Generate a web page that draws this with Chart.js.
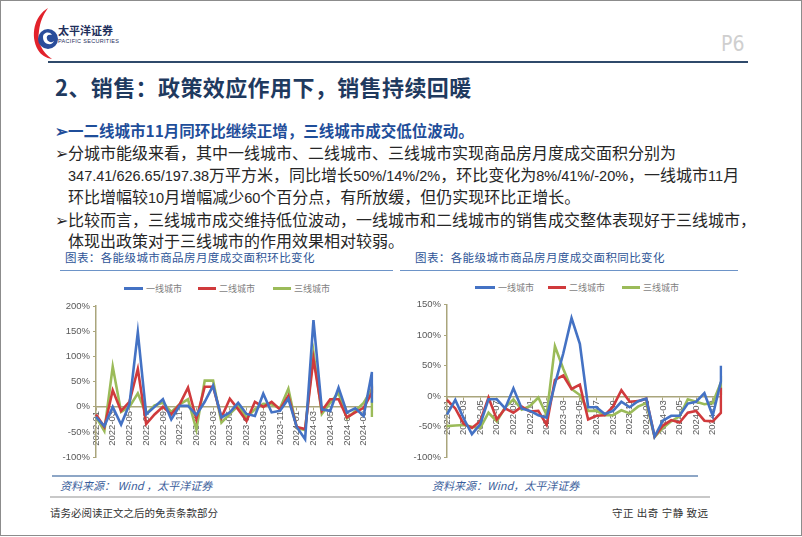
<!DOCTYPE html>
<html>
<head>
<meta charset="utf-8">
<script src="https://cdn.jsdelivr.net/npm/chart.js@4.4.0/dist/chart.umd.min.js"></script>
<style>
  html, body { margin: 0; padding: 0; background: #fff; }
  body { width: 802px; height: 537px; position: relative; overflow: hidden;
         font-family: "Noto Sans CJK SC", "Noto Sans", sans-serif; }
  .abs { position: absolute; white-space: nowrap; }
  .frame { position: absolute; left: 0; top: 0; width: 800px; height: 534px; border: 1px solid #8c8c8c; }
  .title { left: 55px; top: 73px; font-size: 22px; line-height: 26px; font-weight: bold; color: #1f3a5f; letter-spacing: 0.4px; }
  .txt { font-size: 16px; line-height: 20px; color: #262626; }
  .num { font-family: "Liberation Sans", Arial, sans-serif; font-size: 14.5px; }
  .lead { color: #1f4e9a; font-weight: bold; font-size: 15.5px; }
  .cap { font-size: 11.5px; line-height: 14px; color: #2e5597; letter-spacing: 0.4px; }
  .src { font-size: 11px; line-height: 14px; color: #3b5e9b; font-style: italic; }
  .foot { font-size: 10.5px; line-height: 14px; color: #333; }
  .lg { font-size: 9px; line-height: 10px; color: #7f7f7f; }
  .lgline { position: absolute; height: 3px; }
  canvas { position: absolute; }
</style>
</head>
<body>
<div class="frame"></div>

<!-- logo -->
<svg class="abs" style="left:28px;top:6px" width="40" height="54" viewBox="0 0 40 54">
  <path d="M20 2 C6 10 2 30 10 44 C13 49 18 52 24 53 C14 46 9 36 11 25 C12 16 15 9 20 2 Z" fill="#e2222b"/>
  <circle cx="20" cy="33" r="10" fill="#2a4d9b"/>
  <path d="M15 31 C15 26 22 25 24 29 C20 28 18 30 19 33 C20 37 26 37 26 34 C26 40 15 40 15 31 Z" fill="#fff"/>
</svg>
<div class="abs" style="left:58px;top:24px;font-size:11px;line-height:12px;font-weight:bold;color:#1f2f5c;">太平洋证券</div>
<div class="abs" style="left:58px;top:38px;font-size:5.5px;line-height:6px;color:#1f2f5c;font-family:'Liberation Sans',sans-serif;letter-spacing:0.3px;">PACIFIC SECURITIES</div>
<div class="abs" style="left:721px;top:33px;font-size:21px;line-height:23px;color:#cfcfcf;font-family:'Liberation Sans Narrow','DejaVu Sans Condensed',sans-serif;">P6</div>
<div class="abs" style="left:48px;top:61px;width:700px;height:2px;background:#2f4a6b;"></div>

<div class="abs title">2、销售：政策效应作用下，销售持续回暖</div>

<div class="abs txt lead" style="left:55px;top:120px;">➢一二线城市11月同环比继续正增，三线城市成交低位波动。</div>
<div class="abs txt" style="left:55px;top:142px;">➢分城市能级来看，其中一线城市、二线城市、三线城市实现商品房月度成交面积分别为</div>
<div class="abs txt" style="left:68px;top:164px;"><span class="num">347.41/626.65/197.38</span>万平方米，同比增长<span class="num">50%/14%/2%</span>，环比变化为<span class="num">8%/41%/-20%</span>，一线城市<span class="num">11</span>月</div>
<div class="abs txt" style="left:68px;top:186px;">环比增幅较<span class="num">10</span>月增幅减少<span class="num">60</span>个百分点，有所放缓，但仍实现环比正增长。</div>
<div class="abs txt" style="left:55px;top:209px;">➢比较而言，三线城市成交维持低位波动，一线城市和二线城市的销售成交整体表现好于三线城市，</div>
<div class="abs txt" style="left:68px;top:230px;">体现出政策对于三线城市的作用效果相对较弱。</div>

<div class="abs cap" style="left:65px;top:250px;">图表：各能级城市商品房月度成交面积环比变化</div>
<div class="abs cap" style="left:415px;top:250px;">图表：各能级城市商品房月度成交面积同比变化</div>
<div class="abs" style="left:60px;top:270px;width:333px;height:1px;background:#6d94c8;"></div>
<div class="abs" style="left:400px;top:270px;width:338px;height:1px;background:#6d94c8;"></div>

<!-- legends -->
<div class="lgline" style="left:124px;top:287px;width:19px;background:#4472c4;"></div>
<div class="abs lg" style="left:146px;top:284px;">一线城市</div>
<div class="lgline" style="left:198px;top:287px;width:18px;background:#d03a3c;"></div>
<div class="abs lg" style="left:219px;top:284px;">二线城市</div>
<div class="lgline" style="left:273px;top:287px;width:18px;background:#9bbb59;"></div>
<div class="abs lg" style="left:294px;top:284px;">三线城市</div>

<div class="lgline" style="left:475px;top:286px;width:20px;background:#4472c4;"></div>
<div class="abs lg" style="left:498px;top:283px;">一线城市</div>
<div class="lgline" style="left:548px;top:286px;width:18px;background:#d03a3c;"></div>
<div class="abs lg" style="left:569px;top:283px;">二线城市</div>
<div class="lgline" style="left:622px;top:286px;width:18px;background:#9bbb59;"></div>
<div class="abs lg" style="left:643px;top:283px;">三线城市</div>

<canvas id="momChart" width="345" height="170" style="left:40px;top:296px;width:345px;height:170px;"></canvas>
<canvas id="yoyChart" width="345" height="170" style="left:400px;top:296px;width:345px;height:170px;"></canvas>

<div class="abs" style="left:52px;top:475px;width:646px;height:2px;background:#8da6c6;"></div>
<div class="abs src" style="left:60px;top:478px;">资料来源：  Wind ，太平洋证券</div>
<div class="abs src" style="left:432px;top:478px;">资料来源：Wind，太平洋证券</div>
<div class="abs" style="left:50px;top:496px;width:660px;height:2px;background:#c8c8c8;"></div>
<div class="abs foot" style="left:50px;top:506px;">请务必阅读正文之后的免责条款部分</div>
<div class="abs foot" style="left:612px;top:506px;letter-spacing:0.5px;">守正 出奇 宁静 致远</div>

<script>
// 月份（2022-01 ~ 2024-10），11月数据画在最后一个刻度上
const MONTHS = ['2022-01','2022-02','2022-03','2022-04','2022-05','2022-06','2022-07','2022-08','2022-09','2022-10','2022-11','2022-12',
                '2023-01','2023-02','2023-03','2023-04','2023-05','2023-06','2023-07','2023-08','2023-09','2023-10','2023-11','2023-12',
                '2024-01','2024-02','2024-03','2024-04','2024-05','2024-06','2024-07','2024-08','2024-09','2024-10'];
const SERIES_NAMES = ['一线城市', '二线城市', '三线城市'];

// 环比 (%)
const MOM_TIER1 = [-20,-38,0,-35,5,148,-15,0,15,-25,2,2,-16,10,42,-21,-11,8,-14,-18,26,-11,-8,16,-40,-64,172,-5,-8,38,-11,-3,-18,69];
const MOM_TIER2 = [-15,-40,33,-8,10,75,-34,-15,0,-15,5,38,-24,40,40,-21,16,-5,-28,10,0,10,-5,22,-40,-44,95,-8,15,15,-21,-11,-2,28];
const MOM_TIER3 = [-20,-48,80,-10,0,27,-14,3,8,-10,5,15,-45,52,52,-31,-14,2,-21,-5,6,5,-3,36,-42,-46,108,-14,8,28,-23,-8,8,36];
const MOM_NOV = [8, 41, -20];

// 同比 (%)
const YOY_TIER1 = [-30,-6,-36,-62,-46,-5,-5,-20,13,-20,-24,-31,-35,20,70,128,86,-18,-18,-29,-24,-9,-18,-8,-4,-66,-40,-32,-32,-12,-9,5,-32,25];
const YOY_TIER2 = [-6,-20,-45,-52,-41,-2,-38,-20,-27,-17,-25,-24,-47,27,34,12,19,-38,-32,-31,-17,10,-9,-8,-4,-66,-48,-39,-43,-27,-24,-40,-41,-27];
const YOY_TIER3 = [-49,-48,-47,-50,-52,-27,-41,-18,-5,-22,-16,-2,-31,82,45,12,2,-24,-24,-31,-31,-23,-28,-17,-11,-67,-52,-41,-33,-5,-9,-13,-11,23];
const YOY_NOV = [50, 14, 2];

const COLORS = ['#4472c4', '#d03a3c', '#9bbb59'];
const AXIS_COLOR = '#aaa57c';
const TICK_FONT = { family: "'Liberation Sans', Arial, sans-serif", size: 9.5 };

function buildDatasets(series, nov) {
    return series.map((vals, k) => ({
        label: SERIES_NAMES[k],
        data: vals.concat([nov[k]]).map((v, i) => ({ x: MONTHS[Math.min(i, MONTHS.length - 1)], y: v })),
        borderColor: COLORS[k],
        borderWidth: 2.6,
        pointRadius: 0,
        tension: 0,
        fill: false
    }));
}

function makeChart(id, series, nov, yMin, yMax, axisWidth, padding) {
    const ctx = document.getElementById(id).getContext('2d');
    return new Chart(ctx, {
        type: 'line',
        data: { labels: MONTHS, datasets: buildDatasets(series, nov) },
        options: {
            responsive: false,
            animation: false,
            layout: { padding: padding },
            plugins: { legend: { display: false }, tooltip: { enabled: false } },
            scales: {
                x: {
                    type: 'category',
                    position: { y: 0 },
                    offset: false,
                    afterFit: s => { s.height = 0; },
                    grid: {
                        drawOnChartArea: false,
                        tickLength: 3,
                        color: c => (c.index % 2 === 0 ? AXIS_COLOR : 'rgba(0,0,0,0)')
                    },
                    border: { color: AXIS_COLOR, width: 1.5 },
                    ticks: {
                        autoSkip: false,
                        minRotation: 90,
                        maxRotation: 90,
                        padding: 1,
                        color: '#595959',
                        font: TICK_FONT,
                        callback: (v, i) => (i % 2 === 0 ? MONTHS[i] : '')
                    }
                },
                y: {
                    min: yMin,
                    max: yMax,
                    afterFit: s => { s.width = axisWidth; },
                    grid: { drawOnChartArea: false, tickLength: 3, color: AXIS_COLOR },
                    border: { color: AXIS_COLOR, width: 1.5 },
                    ticks: {
                        stepSize: 50,
                        padding: 3,
                        color: '#595959',
                        font: TICK_FONT,
                        callback: v => v + '%'
                    }
                }
            }
        }
    });
}

makeChart('momChart', [MOM_TIER1, MOM_TIER2, MOM_TIER3], MOM_NOV, -100, 200, 56,
          { top: 10, right: 13, bottom: 7, left: 0 });
makeChart('yoyChart', [YOY_TIER1, YOY_TIER2, YOY_TIER3], YOY_NOV, -100, 150, 47,
          { top: 8, right: 24, bottom: 7, left: 0 });
</script>
</body>
</html>
